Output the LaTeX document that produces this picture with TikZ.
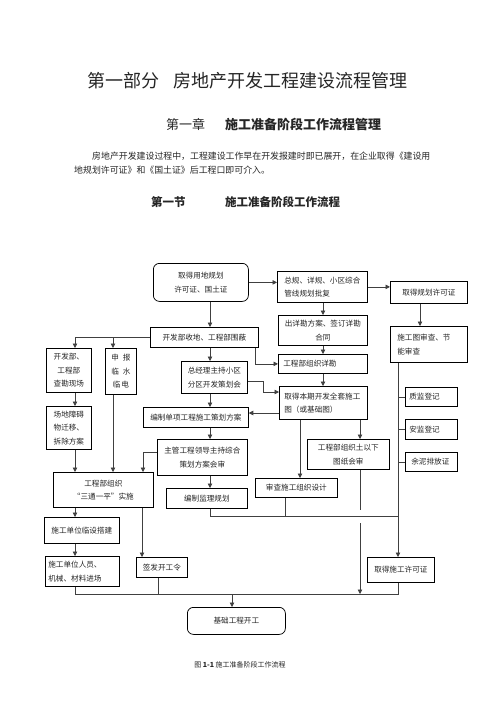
\documentclass[tikz,border=0pt]{standalone}
\usepackage{fontspec}
\setmainfont{Noto Sans CJK SC}
\usetikzlibrary{arrows.meta}
\tikzset{
  txt/.style={inner sep=0pt, anchor=west, text=black!85},
  box/.style={draw=black, line width=0.75pt, inner sep=0pt, anchor=north west, align=center,
              text=black!85, font=\fontsize{7.6}{13.5}\selectfont},
  lbox/.style={box, align=left},
  rbox/.style={box, rounded corners=6pt},
  conn/.style={draw=black!75, line width=0.75pt},
  arr/.style={conn, -{Triangle[length=4.5pt,width=4.5pt]}}
}
\begin{document}
\begin{tikzpicture}[x=1pt,y=-1pt]
\useasboundingbox[fill=white] (0,0) rectangle (496,702);
% headings
\node[txt, font=\fontsize{18}{18}\selectfont] (h1) at (87,81) {第一部分};
\node[txt, font=\fontsize{18}{18}\selectfont] (h2) at (173,81) {房地产开发工程建设流程管理};
\node[txt, font=\fontsize{13}{13}\selectfont] (h3) at (166,124) {第一章};
\node[txt, font=\fontsize{13}{13}\selectfont\bfseries] (h4) at (225,124) {施工准备阶段工作流程管理};
\node[txt, font=\fontsize{8.9}{8.9}\selectfont] (p1) at (92,156) {房地产开发建设过程中，工程建设工作早在开发报建时即已展开，在企业取得《建设用};
\node[txt, font=\fontsize{8.9}{8.9}\selectfont] (p2) at (74,170) {地规划许可证》和《国土证》后工程口即可介入。};
\node[txt, font=\fontsize{11.5}{11.5}\selectfont\bfseries] (h5) at (151,202) {第一节};
\node[txt, font=\fontsize{11.5}{11.5}\selectfont\bfseries] (h6) at (225,202) {施工准备阶段工作流程};
% column / level coordinates
\coordinate (c75) at (75,0);
\coordinate (c113) at (113,0);
\coordinate (c142) at (142,0);
\coordinate (c143) at (143,0);
\coordinate (c158) at (158,0);
\coordinate (c210) at (210,0);
\coordinate (c232) at (232,0);
\coordinate (c255) at (255,0);
\coordinate (c285) at (285,0);
\coordinate (c300) at (300,0);
\coordinate (c323) at (323,0);
\coordinate (c360) at (360,0);
\coordinate (c398) at (398,0);
\coordinate (c420) at (420,0);
\coordinate (k1) at (263,392);
\coordinate (yb) at (0,413);
\coordinate (mid) at (398,516);
\coordinate (bot) at (398,594);
\coordinate (g1) at (0,510);
\coordinate (g2) at (0,523);
% boxes
\node[rbox, minimum width=95pt, minimum height=38pt] (n1) at (153,263) {取得用地规划\\许可证、国土证};
\node[lbox, inner xsep=7pt, text width=76pt, minimum height=31pt] (n2) at (277,271) {总规、详规、小区综合\\管线规划批复};
\node[box, minimum width=77pt, minimum height=22pt] (n3) at (390,281) {取得规划许可证};
\node[box, minimum width=108pt, minimum height=20pt] (n4) at (150,327) {开发部收地、工程部围蔽};
\node[box, minimum width=89pt, minimum height=30pt] (n5) at (278,315) {出详勘方案、签订详勘\\合同};
\node[lbox, inner xsep=7pt, text width=63pt, minimum height=36pt] (n6) at (390,326) {施工图审查、节\\能审查};
\node[lbox, inner xsep=5pt, text width=79pt, minimum height=19pt] (n7) at (278,354) {工程部组织详勘};
\node[box, minimum width=45pt, minimum height=44pt] (n8) at (46,348) {开发部、\\工程部\\查勘现场};
\node[box, minimum width=31pt, minimum height=46pt] (n9) at (105,348) {申\hspace{4pt}报\\临\hspace{4pt}水\\临\hspace{1pt}电};
\node[box, minimum width=66pt, minimum height=32pt] (n10) at (181,361) {总经理主持小区\\分区开发策划会};
\node[lbox, inner xsep=5pt, text width=78pt, minimum height=33pt] (n11) at (279,386) {取得本期开发全套施工\\图（或基础图）};
\node[lbox, inner xsep=4pt, text width=44pt, minimum height=19pt] (n12) at (405,387) {质监登记};
\node[box, minimum width=105pt, minimum height=20pt] (n13) at (143,407) {编制单项工程施工策划方案};
\node[box, minimum width=45pt, minimum height=43pt] (n14) at (46,406) {场地障碍\\物迁移、\\拆除方案};
\node[lbox, inner xsep=4pt, text width=44pt, minimum height=20pt] (n15) at (405,419) {安监登记};
\node[box, minimum width=90pt, minimum height=36pt] (n16) at (157,439) {主管工程领导主持综合\\策划方案会审};
\node[box, minimum width=82pt, minimum height=30pt] (n17) at (307,439) {工程部组织土以下\\图纸会审};
\node[lbox, inner xsep=6pt, text width=40pt, minimum height=19pt] (n18) at (405,452) {余泥排放证};
\node[box, minimum width=100pt, minimum height=35pt] (n19) at (53,472) {工程部组织\\“三通一平”实施};
\node[box, minimum width=82pt, minimum height=19pt] (n20) at (255,478) {审查施工组织设计};
\node[box, minimum width=81pt, minimum height=20pt] (n21) at (166,488) {编制监理规划};
\node[box, minimum width=75pt, minimum height=26pt] (n22) at (44,517) {施工单位临设搭建};
\node[lbox, inner xsep=3pt, text width=68pt, minimum height=30pt] (n23) at (45,556) {施工单位人员、\\机械、材料进场};
\node[box, minimum width=51pt, minimum height=20pt] (n24) at (136,557) {签发开工令};
\node[box, minimum width=67pt, minimum height=25pt] (n25) at (367,557) {取得施工许可证};
\node[rbox, minimum width=98pt, minimum height=27pt] (n26) at (187,607) {基础工程开工};
% connectors
\draw[arr] (n1.east) -- (n1.east -| n2.west);
\draw[arr] (n1.south -| c210) -- (n4.north -| c210);
\draw[arr] (n2.east) -- (n2.east -| n3.west);
\draw[arr] (n2.south -| c323) -- (n5.north -| c323);
\draw[arr] (n3.south -| c420) -- (n6.north -| c420);
\draw[arr] (n5.south -| c323) -- (n7.north -| c323);
\draw[arr] (n7.south -| c323) -- (n11.north -| c323);
\draw[arr] (n4.south -| c255) |- (n7.west);
\draw[arr] (n4.west) -| (n8.north -| c75);
\draw[arr] (n4.west -| c113) -- (n9.north -| c113);
\draw[arr] (n4.south -| c210) -- (n10.north -| c210);
\draw[arr] ([yshift=-4pt]n10.east) -| (k1) -- (k1 -| n11.west);
\draw[arr] (n11.west |- yb) -- (n13.east |- yb);
\draw[arr] (n10.south -| c210) -- (n13.north -| c210);
\draw[arr] (n13.south -| c210) -- (n16.north -| c210);
\draw[arr] (n16.south -| c210) -- (n21.north -| c210);
\draw[arr] ([yshift=5pt]n16.west) -| (n19.north -| c143);
\draw[arr] (n8.south -| c75) -- (n14.north -| c75);
\draw[arr] (n14.south -| c75) -- (n19.north -| c75);
\draw[arr] (n9.south -| c113) -- (n19.north -| c113);
\draw[arr] (n19.south -| c75) -- (n22.north -| c75);
\draw[arr] (n19.south -| c142) -- (n24.north -| c142);
\draw[arr] (n22.south -| c75) -- (n23.north -| c75);
\draw[conn] (n23.south -| c75) |- (bot) -- (n25.south -| c398);
\draw[conn] (n24.south -| c158) -- (c158 |- bot);
\draw[arr] (c232 |- bot) -- (n26.north -| c232);
\draw[conn] (n21.south -| c210) |- (mid);
\draw[conn] (n20.south -| c285) -- (c285 |- mid);
\draw[arr] (n6.south -| c398) -- (n25.north -| c398);
\draw[conn] (n12.west -| c398) -- (n12.west);
\draw[conn] (n15.west -| c398) -- (n15.west);
\draw[conn] (n18.west -| c398) -- (n18.west);
\draw[arr] (n11.south -| c300) -- (n20.north -| c300);
\draw[arr] (n11.south -| c360) -- (n17.north -| c360);
\draw[conn] (n17.south -| c360) -- (c360 |- g1);
\draw[arr] (c360 |- g2) -- (c360 |- bot);
% caption
\node[inner sep=0pt, text=black!85, font=\fontsize{7}{7}\selectfont] (cap) at (240,665) {图 \textbf{1-1} 施工准备阶段工作流程};
\end{tikzpicture}
\end{document}
